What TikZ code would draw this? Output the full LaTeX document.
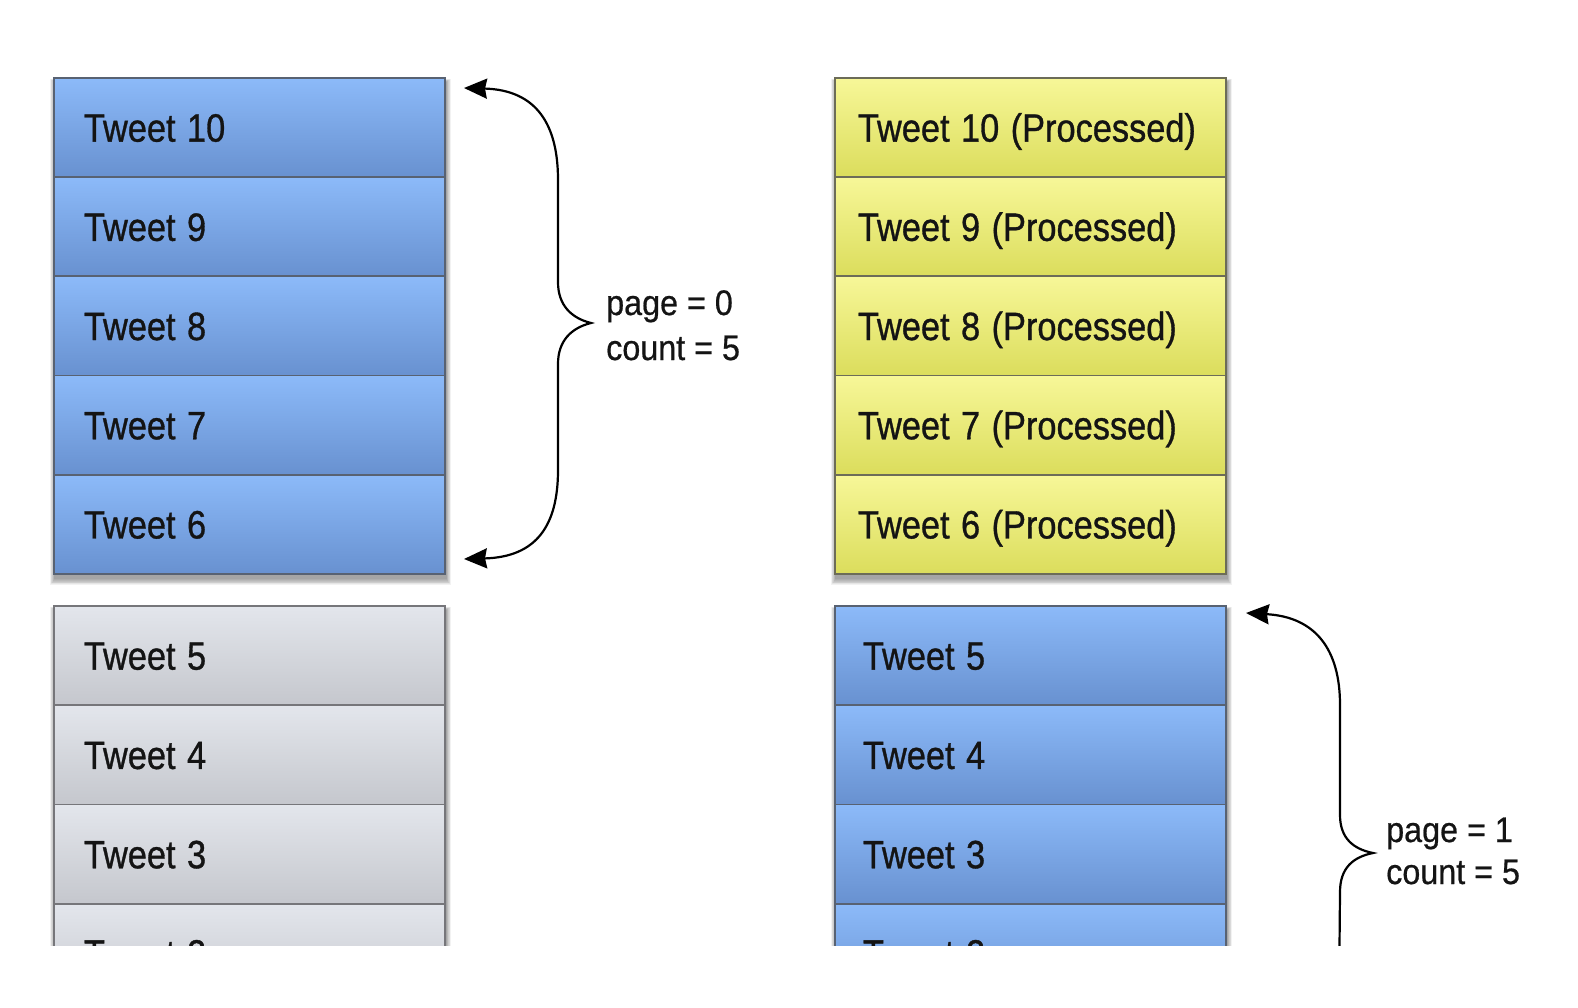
\documentclass[tikz,border=0pt]{standalone}
\usepackage{fontspec}
\setmainfont{Liberation Sans}[FakeBold=0.9]
\usetikzlibrary{arrows.meta}
\definecolor{bluetop}{RGB}{140,186,249}
\definecolor{bluebot}{RGB}{104,145,208}
\definecolor{blueedge}{RGB}{88,98,114}
\definecolor{yeltop}{RGB}{247,247,152}
\definecolor{yelbot}{RGB}{219,221,92}
\definecolor{yeledge}{RGB}{108,108,88}
\definecolor{graytop}{RGB}{227,230,236}
\definecolor{graybot}{RGB}{197,199,205}
\definecolor{grayedge}{RGB}{118,118,122}
\definecolor{txt}{RGB}{20,20,20}
\newcommand{\tw}[1]{\scalebox{0.87}[1]{\addfontfeature{FakeBold=0.9}#1}}
\newcommand{\lb}[1]{\scalebox{0.91}[1]{\addfontfeature{FakeBold=0.6}#1}}
\begin{document}
\begin{tikzpicture}[x=1pt,y=-1pt,
  cell/.style={rectangle, anchor=north west, line width=1.8pt, minimum height=99.2pt,
    text height=28.3pt, text depth=0pt, align=left, text=txt,
    font=\fontsize{39.5}{47}\selectfont},
  bluecellL/.style={cell, draw=blueedge, top color=bluetop, bottom color=bluebot, inner xsep=30pt, text width=331pt},
  bluecellR/.style={cell, draw=blueedge, top color=bluetop, bottom color=bluebot, inner xsep=28pt, text width=335pt},
  yelcell/.style={cell, draw=yeledge, top color=yeltop, bottom color=yelbot, inner xsep=23pt, text width=345pt},
  graycell/.style={cell, draw=grayedge, top color=graytop, bottom color=graybot, inner xsep=30pt, text width=331pt},
  lbl/.style={anchor=base west, inner sep=0pt, text=txt, font=\fontsize{35.5}{42}\selectfont},
  brace/.style={line width=2.2pt, draw=black},
  >={Stealth[length=23pt,width=20pt,inset=2pt]}
]
\useasboundingbox (0,0) rectangle (1578,1008);
\fill[white] (0,0) rectangle (1578,1008);
\begin{scope}
\clip (0,0) rectangle (1578,945);
% shadows
\foreach \xa/\ya/\xb/\yb in {53/77/444/573, 834/77/1225/573, 53/605/444/1010, 834/605/1225/1010}{
  \foreach \s in {1,...,8}{
    \fill[black,opacity=0.05] (\xa+2-\s*0.6,\ya+5-\s*0.4) rectangle (\xb+2+\s*0.6,\yb+5+\s*0.9);
  }
}
% left upper stack
\node[bluecellL] (L10) at (53,77) {\tw{Tweet 10}};
\node[bluecellL] (L9) at (53,176.2) {\tw{Tweet 9}};
\node[bluecellL] (L8) at (53,275.4) {\tw{Tweet 8}};
\node[bluecellL] (L7) at (53,374.6) {\tw{Tweet 7}};
\node[bluecellL] (L6) at (53,473.8) {\tw{Tweet 6}};
% left lower stack
\node[graycell] (L5) at (53,605) {\tw{Tweet 5}};
\node[graycell] (L4) at (53,704.3) {\tw{Tweet 4}};
\node[graycell] (L3) at (53,803.6) {\tw{Tweet 3}};
\node[graycell] (L2) at (53,902.9) {\tw{Tweet 2}};
% right upper stack
\node[yelcell] (R10) at (834,77) {\tw{Tweet 10 (Processed)}};
\node[yelcell] (R9) at (834,176.2) {\tw{Tweet 9 (Processed)}};
\node[yelcell] (R8) at (834,275.4) {\tw{Tweet 8 (Processed)}};
\node[yelcell] (R7) at (834,374.6) {\tw{Tweet 7 (Processed)}};
\node[yelcell] (R6) at (834,473.8) {\tw{Tweet 6 (Processed)}};
% right lower stack
\node[bluecellR] (R5) at (834,605) {\tw{Tweet 5}};
\node[bluecellR] (R4) at (834,704.3) {\tw{Tweet 4}};
\node[bluecellR] (R3) at (834,803.6) {\tw{Tweet 3}};
\node[bluecellR] (R2) at (834,902.9) {\tw{Tweet 2}};
% labels
\node[lbl] (p0a) at (606,315) {\lb{page = 0}};
\node[lbl] (p0b) at (606,360) {\lb{count = 5}};
\node[lbl] (p1a) at (1386,842) {\lb{page = 1}};
\node[lbl] (p1b) at (1386,884) {\lb{count = 5}};
% braces
\coordinate (a0top) at (464,88);
\coordinate (a0bot) at (464,559);
\coordinate (a1top) at (1246,613);
\coordinate (a1end) at (1339,1000);
\draw[brace, <->] (a0top) .. controls (537,90) and (558,125) .. (558,180)
  -- (558,282) .. controls (558,305) and (571,318) .. (591,323)
  .. controls (571,328) and (558,341) .. (558,364)
  -- (558,470) .. controls (558,525) and (537,557) .. (a0bot);
\draw[brace, <-] (a1top) .. controls (1316,617) and (1340,650) .. (1340,705)
  -- (1340,815) .. controls (1340,838) and (1353,849) .. (1373,853)
  .. controls (1353,857) and (1340,868) .. (1340,892)
  -- (a1end);
\end{scope}
\end{tikzpicture}
\end{document}
